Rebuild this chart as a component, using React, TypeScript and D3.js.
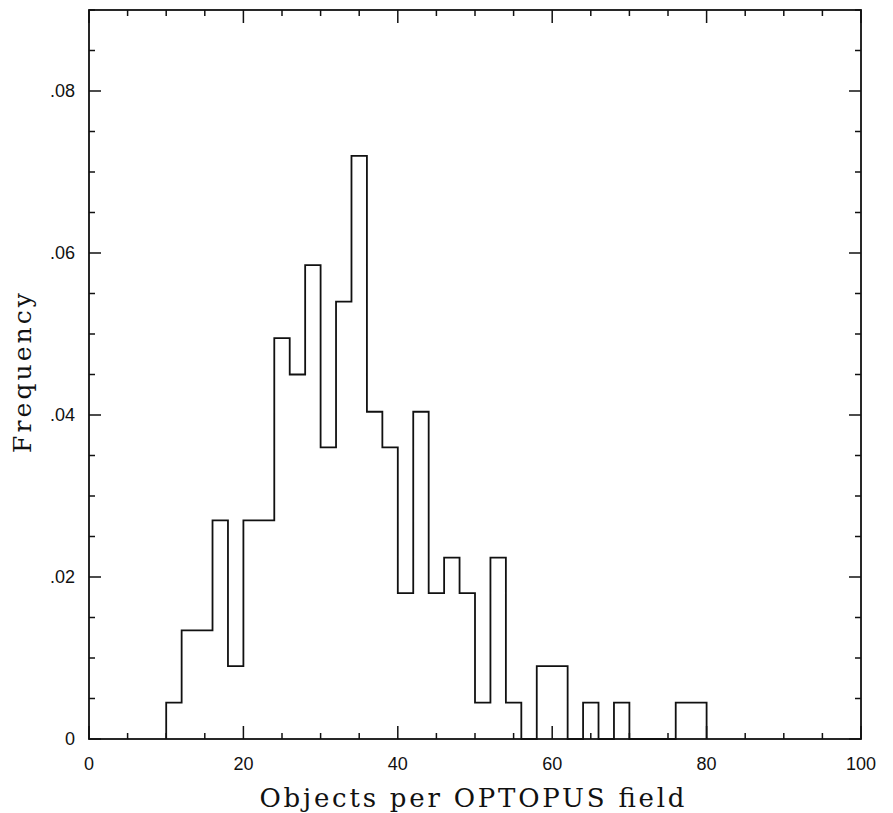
import React, { useEffect, useRef } from "react";
import * as d3 from "d3";

// left edge of each 2-unit bin
const binStarts = [10, 12, 14, 16, 18, 20, 22, 24, 26, 28, 30, 32, 34, 36, 38, 40, 42, 44, 46, 48, 50, 52, 54, 56, 58, 60, 62, 64, 66, 68, 70, 72, 74, 76, 78];
const binWidth = 2;
// frequency, one per bin
const frequencies = [0.0045, 0.0134, 0.0134, 0.027, 0.009, 0.027, 0.027, 0.0495, 0.045, 0.0585, 0.036, 0.054, 0.072, 0.0404, 0.036, 0.018, 0.0404, 0.018, 0.0224, 0.018, 0.0045, 0.0224, 0.0045, 0, 0.009, 0.009, 0, 0.0045, 0, 0.0045, 0, 0, 0, 0.0045, 0.0045];

const xMajorTicks = [0, 20, 40, 60, 80, 100];
const yMajorTicks = [0, 0.02, 0.04, 0.06, 0.08];

const xTitle = "Objects per OPTOPUS field";
const yTitle = "Frequency";

const W = 893, H = 813;

const Histogram = () => {
    const ref = useRef<SVGSVGElement | null>(null);

    useEffect(() => {
        const svg = d3.select(ref.current);
        svg.selectAll("*").remove();

        const left = 89, right = 861, top = 10, bottom = 739;
        const x = d3.scaleLinear().domain([0, 100]).range([left, right]);
        const y = d3.scaleLinear().domain([0, 0.09]).range([bottom, top]);

        const ink = "#111";

        // frame
        svg.append("rect")
            .attr("x", left).attr("y", top)
            .attr("width", right - left).attr("height", bottom - top)
            .attr("fill", "none").attr("stroke", ink).attr("stroke-width", 1.8);

        const ticks = svg.append("g").attr("stroke", ink).attr("stroke-width", 1.5);

        // x ticks, inward on bottom and top
        x.ticks(20).forEach(v => {
            const len = xMajorTicks.includes(v) ? 13 : 6;
            ticks.append("line").attr("x1", x(v)).attr("x2", x(v)).attr("y1", bottom).attr("y2", bottom - len);
            ticks.append("line").attr("x1", x(v)).attr("x2", x(v)).attr("y1", top).attr("y2", top + len);
        });

        // y ticks, inward on left and right
        d3.range(0, 0.0901, 0.005).forEach(v => {
            const major = yMajorTicks.some(t => Math.abs(t - v) < 1e-6);
            const len = major ? 12 : 6;
            ticks.append("line").attr("y1", y(v)).attr("y2", y(v)).attr("x1", left).attr("x2", left + len);
            ticks.append("line").attr("y1", y(v)).attr("y2", y(v)).attr("x1", right).attr("x2", right - len);
        });

        // tick labels
        const labelFont = "'Liberation Sans', Arial, sans-serif";
        svg.append("g").selectAll("text")
            .data(xMajorTicks)
            .join("text")
            .attr("x", d => x(d))
            .attr("y", 770)
            .attr("text-anchor", "middle")
            .attr("font-family", labelFont)
            .attr("font-size", 18)
            .attr("fill", ink)
            .text(d => String(d));

        const fmt = (v: number) => (v === 0 ? "0" : d3.format(".2f")(v).replace(/^0/, ""));
        svg.append("g").selectAll("text")
            .data(yMajorTicks)
            .join("text")
            .attr("x", 75)
            .attr("y", d => y(d))
            .attr("dy", "0.36em")
            .attr("text-anchor", "end")
            .attr("font-family", labelFont)
            .attr("font-size", 18)
            .attr("fill", ink)
            .text(fmt);

        // histogram outline
        const pts: [number, number][] = [[binStarts[0], 0]];
        binStarts.forEach((b, i) => pts.push([b, frequencies[i]]));
        pts.push([binStarts[binStarts.length - 1] + binWidth, 0]);

        const line = d3.line<[number, number]>()
            .x(d => x(d[0]))
            .y(d => y(d[1]))
            .curve(d3.curveStepAfter);

        svg.append("path")
            .attr("d", line(pts))
            .attr("fill", "none")
            .attr("stroke", ink)
            .attr("stroke-width", 1.8);

        // axis titles
        const titleFont = "'DejaVu Serif', 'Liberation Serif', serif";
        svg.append("text")
            .attr("x", 472)
            .attr("y", 807)
            .attr("text-anchor", "middle")
            .attr("font-family", titleFont)
            .attr("font-size", 26)
            .attr("textLength", 425)
            .attr("lengthAdjust", "spacing")
            .attr("fill", ink)
            .text(xTitle);

        svg.append("text")
            .attr("transform", "translate(31,373) rotate(-90)")
            .attr("text-anchor", "middle")
            .attr("font-family", titleFont)
            .attr("font-size", 25)
            .attr("textLength", 160)
            .attr("lengthAdjust", "spacing")
            .attr("fill", ink)
            .text(yTitle);
    }, []);

    return <svg ref={ref} width={W} height={H} style={{ display: "block", background: "#fff" }} />;
};

export default function App() {
    useEffect(() => {
        document.body.style.margin = "0";
    }, []);
    return <Histogram />;
}
